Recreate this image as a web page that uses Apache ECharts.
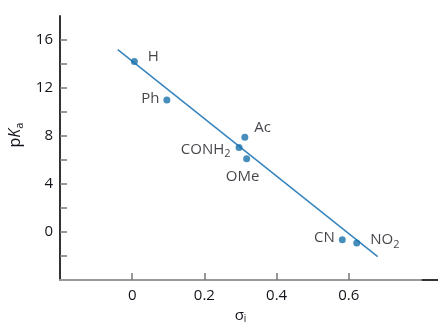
<!DOCTYPE html>
<html>
<head>
<meta charset="utf-8">
<script src="https://cdn.jsdelivr.net/npm/echarts@6/dist/echarts.min.js"></script>
<style>
  html, body { margin: 0; padding: 0; background: #fff; }
  #main { width: 438px; height: 322px; }
</style>
</head>
<body>
<div id="main"></div>
<script>
// substituents, sigma_i and pKa
const substituents = ["H", "Ph", "Ac", "CONH2", "OMe", "CN", "NO2"];
const sigmaI = [0.006, 0.096, 0.312, 0.296, 0.317, 0.582, 0.622];
const pKa = [14.2, 11.0, 7.9, 7.05, 6.1, -0.65, -0.92];

// ends of the fitted line
const fitX = [-0.04, 0.68];
const fitY = [15.2, -2.05];

const yTicks = [-2, 0, 2, 4, 6, 8, 10, 12, 14, 16];
const yLabels = [0, 4, 8, 12, 16];
const xTicks = [0, 0.2, 0.4, 0.6];

const textColor = "#14141c";
const dotColor = "#1a72ad";

// where each label sits relative to its dot
const labelPos = {
  H: { position: "right", offset: [6, -5] },
  Ph: { position: "left", offset: [0, -1] },
  Ac: { position: "right", offset: [2, -9] },
  CONH2: { position: "left", offset: [-1, 2] },
  OMe: { position: "bottom", offset: [-4, 3] },
  CN: { position: "left", offset: [0, -2] },
  NO2: { position: "right", offset: [6, -3] },
};

function labelText(name) {
  const m = name.match(/^(\D+)(\d*)$/);
  return m[2] ? "{a|" + m[1] + "}{s|" + m[2] + "}" : "{a|" + name + "}";
}

const font = "Open Sans";
const rich = {
  a: { fontSize: 15, color: textColor, fontFamily: font },
  s: { fontSize: 11, color: textColor, fontFamily: font, padding: [9, 0, 0, 0] },
};

const chart = echarts.init(document.getElementById("main"));

chart.setOption({
  animation: false,
  grid: { left: 60, right: 17, top: 16, bottom: 42, outerBoundsMode: "none", containLabel: false },
  xAxis: {
    type: "value",
    min: -0.2,
    max: 0.8,
    name: "{g|σ}{s|i}",
    nameLocation: "middle",
    nameGap: 25,
    nameTextStyle: {
      rich: {
        g: { fontSize: 15, color: textColor, fontFamily: font },
        s: { fontSize: 10, color: textColor, fontFamily: font, padding: [7, 0, 0, 0] },
      },
    },
    axisLine: { onZero: false, lineStyle: { color: "#999", width: 2 } },
    axisTick: { inside: true, length: 7, customValues: xTicks, lineStyle: { color: "#777", width: 1.5 } },
    axisLabel: {
      customValues: xTicks,
      margin: 8,
      fontSize: 15,
      color: textColor,
      fontFamily: font,
    },
    splitLine: { show: false },
  },
  yAxis: {
    type: "value",
    min: -4,
    max: 18,
    name: "{p|p}{k|K}{s|a}",
    nameLocation: "middle",
    nameGap: 34,
    nameRotate: 90,
    nameTextStyle: {
      padding: [0, 0, 0, 26],
      rich: {
        p: { fontSize: 16, color: textColor, fontFamily: font },
        k: { fontSize: 16, color: textColor, fontFamily: font, fontStyle: "italic" },
        s: { fontSize: 11, color: textColor, fontFamily: font, padding: [9, 0, 0, 0] },
      },
    },
    axisLine: { show: true, onZero: false, lineStyle: { color: "#333", width: 2 } },
    axisTick: { show: true, inside: true, length: 7, customValues: yTicks, lineStyle: { color: "#777", width: 1.5 } },
    axisLabel: {
      customValues: yLabels,
      margin: 7,
      fontSize: 15,
      color: textColor,
      fontFamily: font,
    },
    splitLine: { show: false },
  },
  series: [
    {
      type: "line",
      data: fitX.map((x, i) => [x, fitY[i]]),
      symbol: "none",
      lineStyle: { color: "#3584bd", width: 1.5 },
      z: 1,
    },
    {
      type: "scatter",
      symbolSize: 7,
      itemStyle: { color: dotColor },
      z: 2,
      data: substituents.map((name, i) => ({
        value: [sigmaI[i], pKa[i]],
        label: {
          show: true,
          formatter: labelText(name),
          rich: rich,
          distance: 4,
          ...labelPos[name],
        },
      })),
    },
  ],
  graphic: [
    {
      type: "line",
      shape: { x1: 416, y1: 280, x2: 438, y2: 280 },
      style: { stroke: "#333", lineWidth: 2 },
    },
  ],
});
</script>
</body>
</html>
